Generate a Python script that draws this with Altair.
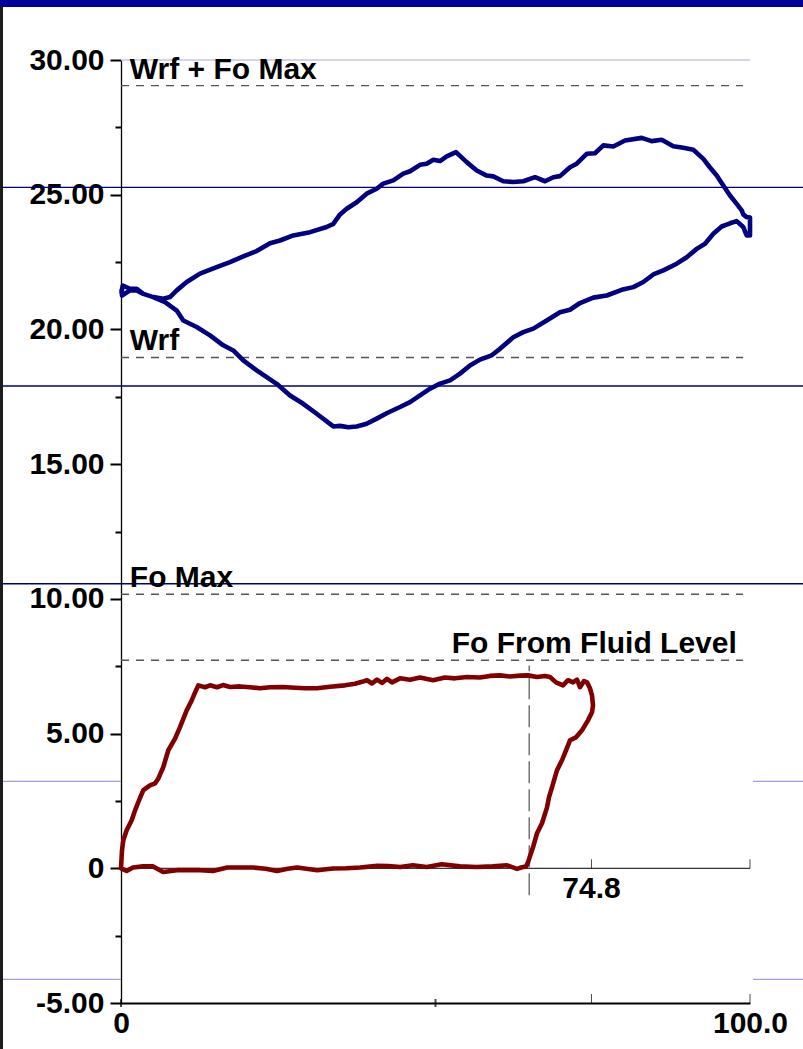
import altair as alt
import pandas as pd

FONT = "Liberation Sans"
FS = 30
W, H = 629, 943
PAD = {"left": 121, "top": 60, "right": 53, "bottom": 46}

X_DOMAIN = [0, 100]
Y_DOMAIN = [-5, 30]

# axis ticks / labels
y_tick_values = [-5, -2.5, 0, 2.5, 5, 7.5, 10, 12.5, 15, 17.5, 20, 22.5, 25, 27.5, 30]
x_label_values = [0, 100]

# Wrf (polished rod load) loop - blue
wrf_x = [0.08, 0.27, 1.43, 2.5, 3.55, 5.14, 6.72, 7.79, 8.86, 10.45, 12.56, 15.21, 17.33,
         19.44, 21.57, 23.69, 25.28, 27.39, 30.05, 32.7, 33.75, 34.82, 35.88, 37.47, 39.06,
         40.65, 41.7, 43.29, 44.88, 45.95, 47.54, 48.6, 49.65, 50.72, 51.78, 53.26, 54.96,
         56.55, 58.14, 59.19, 60.78, 62.37, 63.96, 65.82, 67.41, 68.73, 69.79, 71.38, 72.45,
         74.04, 75.36, 76.68, 78.27, 80.13, 82.78, 84.37, 85.96, 87.81, 89.4, 90.99, 92.58,
         93.64, 94.71, 95.75, 96.82, 97.88, 98.68, 98.93, 99.47, 100.0, 100.0, 99.47, 98.93,
         97.88, 96.82, 95.5, 94.17, 92.85, 91.53, 89.94, 88.35, 86.22, 84.63, 83.04, 81.45,
         79.6, 77.22, 75.09, 72.97, 71.38, 69.79, 67.68, 65.55, 63.96, 62.37, 60.25, 58.93,
         57.07, 55.48, 53.9, 52.31, 50.72, 49.13, 47.54, 45.95, 44.36, 42.24, 40.65, 39.06,
         37.47, 36.14, 34.82, 33.75, 31.11, 28.98, 26.87, 24.75, 21.57, 19.44, 17.85, 16.26,
         14.15, 12.03, 9.9, 8.86, 7.0, 5.14, 3.55, 2.5, 1.43, 0.16, 0.08]
wrf_y = [21.37, 21.63, 21.51, 21.51, 21.32, 21.2, 21.14, 21.2, 21.45, 21.76, 22.07, 22.31, 22.5,
         22.71, 22.91, 23.2, 23.3, 23.49, 23.61, 23.8, 23.92, 24.27, 24.48, 24.72, 25.04,
         25.22, 25.41, 25.53, 25.78, 25.87, 26.11, 26.15, 26.3, 26.25, 26.42, 26.58, 26.21,
         25.9, 25.71, 25.68, 25.5, 25.47, 25.5, 25.65, 25.5, 25.65, 25.69, 26.02, 26.15,
         26.52, 26.54, 26.83, 26.79, 27.01, 27.11, 26.99, 27.04, 26.8, 26.74, 26.67, 26.33,
         26.01, 25.71, 25.34, 24.97, 24.66, 24.42, 24.27, 24.17, 24.15, 23.49, 23.49, 23.8,
         24.02, 23.94, 23.82, 23.55, 23.18, 22.99, 22.68, 22.44, 22.19, 22.04, 21.76, 21.57,
         21.47, 21.26, 21.18, 20.98, 20.73, 20.64, 20.33, 20.03, 19.9, 19.71, 19.28, 19.04,
         18.88, 18.66, 18.36, 18.11, 17.99, 17.8, 17.55, 17.3, 17.12, 16.89, 16.69, 16.5,
         16.4, 16.37, 16.42, 16.4, 16.87, 17.24, 17.55, 17.98, 18.48, 18.85, 19.22, 19.41,
         19.78, 20.09, 20.33, 20.7, 21.01, 21.2, 21.32, 21.45, 21.45, 21.26, 21.45]

# Fo (downhole load) loop - red
fo_x = [0, 0.16, 0.37, 0.9, 1.7, 2.23, 3.0, 3.55, 4.61, 5.41, 5.93, 6.73, 7.52, 8.59, 9.38,
        10.44, 11.24, 11.92, 12.29,
        13.35, 14.15, 15.26, 16.22, 17.33, 18.92, 20.51, 22.1, 23.69, 25.76, 27.66, 29.25,
        31.16, 33.23, 35.61, 37.2, 38.31, 39.11, 39.9, 40.7, 41.49, 42.29, 43.08, 44.36,
        45.95, 47.54, 49.6, 51.51, 53.1, 55.01, 57.07, 58.66, 60.25, 61.84, 63.43, 64.71,
        66.14, 67.41, 68.2, 69.16, 70.27, 71.07, 71.86, 72.5, 72.97, 73.61, 74.09, 74.56,
        74.88, 75.04, 74.88, 74.24, 73.29, 72.34, 71.38, 70.75, 70.11, 69.32, 68.52, 68.04,
        67.73, 66.93, 66.14, 65.5, 65.02, 64.71, 64.39, 63.75,
        62.96, 61.4, 59.1, 56.5, 53.9, 51.0, 48.6, 46.4, 44.4, 42.5, 40.7, 38.0, 35.8, 33.7,
        31.2, 28.0, 26.5, 24.8, 23.0, 21.0, 16.9, 14.6, 12.6, 8.9, 6.7, 5.1, 3.5, 1.9, 0.9,
        0.1, 0]
fo_y = [0, 0.67, 1.04, 1.41, 1.78, 2.15, 2.6, 2.9, 3.08, 3.15, 3.33, 3.76, 4.38, 4.81, 5.24,
        5.86, 6.23, 6.6, 6.79,
        6.72, 6.79, 6.72, 6.8, 6.73, 6.75, 6.72, 6.68, 6.72, 6.73, 6.7, 6.68,
        6.68, 6.74, 6.79, 6.85, 6.92, 6.98, 6.86, 7.0, 6.88, 7.03, 6.9, 7.05,
        7.0, 7.08, 6.98, 7.08, 7.05, 7.1, 7.08, 7.14, 7.16, 7.12, 7.15, 7.16,
        7.1, 7.14, 7.1, 6.9, 6.79, 6.98, 6.9, 7.0, 6.72, 6.95, 6.9, 6.68,
        6.42, 6.05, 5.79, 5.49, 5.12, 4.86, 4.75, 4.38, 4.01, 3.64, 3.0, 2.63,
        2.26, 1.67, 1.3, 0.78, 0.45, 0.22, 0.07, 0.04,
        -0.02, 0.11, 0.07, 0.05, 0.07, 0.15, 0.05, 0.11, 0.05, 0.08, 0.09, 0.03, 0.0, -0.01,
        -0.07, 0.03, -0.02, -0.1, -0.02, 0.03, 0.03, -0.1, -0.07, -0.07, -0.14, 0.07, 0.07,
        0.03, -0.1, -0.01, 0]

# reference (dashed) lines and their labels
ref_y = [29.05, 18.96, 10.17, 7.72]
ref_labels = ["Wrf + Fo Max", "Wrf", "Fo Max", "Fo From Fluid Level"]
ref_x_start = 0.0
ref_x_end = 98.9
left_label_x = 1.4
right_label_x = 97.9

# pump-fill marker
fill_x = [64.9]
fill_y_low = [-1.0]
fill_y_high = [7.53]
fill_label = ["74.8"]
fill_label_x = [74.8]

# background frame lines
navy_line_y = [25.27, 17.9, 10.56]
lavender_grid_y = [30.0]
lavender_outer_y = [3.23, -4.12]

# extra tick marks
up_tick_x = [74.8, 100, 74.8, 100]
up_tick_y = [-5, -5, 0, 0]
mid_tick_x = [0, 50]
mid_tick_y = [-5, -5]

xs = alt.Scale(domain=X_DOMAIN, nice=False, zero=False)
ys = alt.Scale(domain=Y_DOMAIN, nice=False, zero=False)

x_axis = alt.Axis(values=x_label_values,
                  labelExpr="datum.value === 0 ? '0' : format(datum.value, '.1f')",
                  ticks=False, domainColor="black", domainWidth=2,
                  labelFont=FONT, labelFontSize=FS, labelFontWeight="bold", labelColor="black",
                  labelPadding=29, labelBaseline="alphabetic", labelFlush=False,
                  labelOverlap=False, grid=False, title=None)
y_axis = alt.Axis(values=y_tick_values,
                  labelExpr="datum.value % 5 === 0 ? (datum.value === 0 ? '0' : (datum.value < 0 ? '-' + format(-datum.value, '.2f') : format(datum.value, '.2f'))) : ''",
                  tickSize={"condition": {"test": "datum.value % 5 === 0", "value": 11}, "value": 6},
                  tickWidth=2, tickColor="black", domainColor="black", domainWidth=1.3,
                  labelFont=FONT, labelFontSize=FS, labelFontWeight="bold", labelColor="black",
                  labelPadding=6, labelBaseline="middle", labelFlush=False, labelOverlap=False,
                  grid=False, title=None)

wrf_df = pd.DataFrame({"x": wrf_x, "y": wrf_y, "i": range(len(wrf_x))})
fo_df = pd.DataFrame({"x": fo_x, "y": fo_y, "i": range(len(fo_x))})

one = pd.DataFrame({"a": [0]})

navy = alt.Chart(pd.DataFrame({"y": navy_line_y})).mark_rule(color="#000080", strokeWidth=1.3).encode(
    y=alt.Y("y:Q", scale=ys, axis=y_axis),
    x=alt.value(-PAD["left"]), x2=alt.value(W + PAD["right"]))

grid_top = alt.Chart(pd.DataFrame({"y": lavender_grid_y, "x": [X_DOMAIN[0]], "x2": [X_DOMAIN[1]]})).mark_rule(
    color="#c4c4e4", strokeWidth=1.3).encode(
    y=alt.Y("y:Q"), x=alt.X("x:Q", scale=xs, axis=x_axis), x2="x2:Q")

outer_left = alt.Chart(pd.DataFrame({"y": lavender_outer_y})).mark_rule(color="#8585d5", strokeWidth=1).encode(
    y="y:Q", x=alt.value(-PAD["left"]), x2=alt.value(0))
outer_right = alt.Chart(pd.DataFrame({"y": lavender_outer_y})).mark_rule(color="#8585d5", strokeWidth=1).encode(
    y="y:Q", x=alt.value(W + 3), x2=alt.value(W + PAD["right"]))

ref_df = pd.DataFrame({"y": ref_y, "x": [ref_x_start] * 4, "x2": [ref_x_end] * 4, "label": ref_labels})
refs = alt.Chart(ref_df).mark_rule(color="#555555", strokeWidth=1.4, strokeDash=[8, 7]).encode(
    y="y:Q", x="x:Q", x2="x2:Q")

lab_left = alt.Chart(pd.DataFrame({"y": ref_y[:3], "x": [left_label_x] * 3, "label": ref_labels[:3]})).mark_text(
    align="left", baseline="alphabetic", dy=-7, font=FONT, fontSize=FS, fontWeight="bold", color="black").encode(
    x="x:Q", y="y:Q", text="label:N")
lab_right = alt.Chart(pd.DataFrame({"y": ref_y[3:], "x": [right_label_x], "label": ref_labels[3:]})).mark_text(
    align="right", baseline="alphabetic", dy=-7, font=FONT, fontSize=FS, fontWeight="bold", color="black").encode(
    x="x:Q", y="y:Q", text="label:N")

fill_line = alt.Chart(pd.DataFrame({"x": fill_x, "y": fill_y_low, "y2": fill_y_high})).mark_rule(
    color="#6a6a6a", strokeWidth=1.4, strokeDash=[22, 6]).encode(x="x:Q", y="y:Q", y2="y2:Q")

zero_line = alt.Chart(pd.DataFrame({"x": [X_DOMAIN[0]], "x2": [X_DOMAIN[1]], "y": [0]})).mark_rule(
    color="black", strokeWidth=1).encode(x="x:Q", x2="x2:Q", y="y:Q")

fill_text = alt.Chart(pd.DataFrame({"x": fill_label_x, "y": [0], "label": fill_label})).mark_text(
    align="center", baseline="alphabetic", dy=30, font=FONT, fontSize=FS, fontWeight="bold", color="black").encode(
    x="x:Q", y="y:Q", text="label:N")

up_ticks = alt.Chart(pd.DataFrame({"x": up_tick_x, "y": up_tick_y})).mark_tick(
    orient="vertical", size=9, thickness=1, yOffset=-4.5, color="black").encode(x="x:Q", y="y:Q")
mid_ticks = alt.Chart(pd.DataFrame({"x": mid_tick_x, "y": mid_tick_y})).mark_tick(
    orient="vertical", size=8, thickness=2, color="black").encode(x="x:Q", y="y:Q")

blue = alt.Chart(wrf_df).mark_line(color="#000080", strokeWidth=4.6, strokeJoin="round", strokeCap="round").encode(
    x="x:Q", y="y:Q", order="i:Q")
red = alt.Chart(fo_df).mark_line(color="#800000", strokeWidth=4.6, strokeJoin="round", strokeCap="round").encode(
    x="x:Q", y="y:Q", order="i:Q")

top_bar = alt.Chart(one).mark_rect(color="#000099").encode(
    x=alt.value(-PAD["left"]), x2=alt.value(W + PAD["right"]),
    y=alt.value(-PAD["top"]), y2=alt.value(-PAD["top"] + 7))
left_strip = alt.Chart(one).mark_rect(color="#1c1c1c").encode(
    x=alt.value(-PAD["left"]), x2=alt.value(-PAD["left"] + 3),
    y=alt.value(-PAD["top"] + 7), y2=alt.value(H + PAD["bottom"]))

chart = alt.layer(
    navy, grid_top, outer_left, outer_right, refs, fill_line, zero_line,
    blue, red, lab_left, lab_right, fill_text, up_ticks, mid_ticks, top_bar, left_strip
).properties(
    width=W, height=H, padding=PAD, autosize=alt.AutoSizeParams(type="none"),
    background="white"
).configure_view(stroke=None)

chart.save("out.html", embed_options={"renderer": "svg", "actions": False})
